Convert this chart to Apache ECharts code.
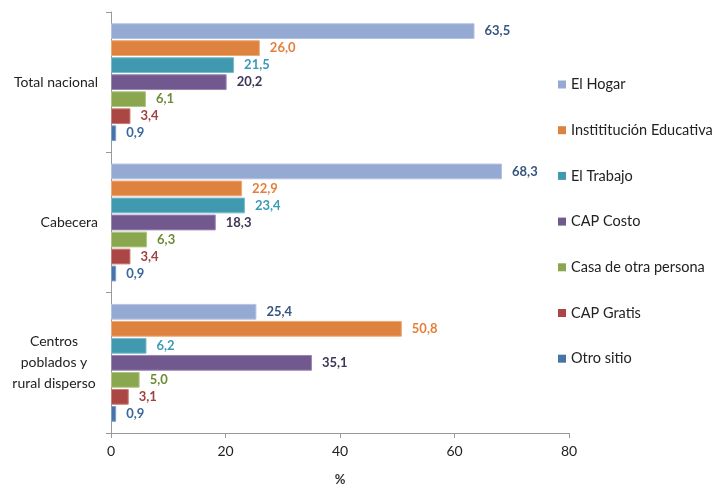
<!DOCTYPE html>
<html>
<head>
<meta charset="utf-8">
<script src="https://cdn.jsdelivr.net/npm/echarts@6/dist/echarts.min.js"></script>
<style>
  html, body { margin: 0; padding: 0; background: #fff; }
  #chart { width: 715px; height: 486px; }
</style>
</head>
<body>
<div id="chart"></div>
<script>
// categorías (de arriba hacia abajo)
const categories = ['Total nacional', 'Cabecera', 'Centros\npoblados y\nrural disperso']

const seriesNames = [
  'El Hogar',
  'Instititución Educativa',
  'El Trabajo',
  'CAP Costo',
  'Casa de otra persona',
  'CAP Gratis',
  'Otro sitio'
]

// valores por serie, en el orden de categories
const hogar = [63.5, 68.3, 25.4]
const educativa = [26.0, 22.9, 50.8]
const trabajo = [21.5, 23.4, 6.2]
const capCosto = [20.2, 18.3, 35.1]
const otraPersona = [6.1, 6.3, 5.0]
const capGratis = [3.4, 3.4, 3.1]
const otroSitio = [0.9, 0.9, 0.9]

const xTicks = [0, 20, 40, 60, 80]

const seriesValues = [hogar, educativa, trabajo, capCosto, otraPersona, capGratis, otroSitio]
const barColors = ['#95AAD3', '#DD833F', '#4199B0', '#71588F', '#8AA64E', '#AA4744', '#4673A8']
const borderColors = ['#B4C4E2', '#EFA877', '#79BCCD', '#9A86B2', '#AFC683', '#CB7C79', '#7C9ECB']
const labelColors = ['#36557F', '#E67E3A', '#3A9AB5', '#3E3656', '#6E8A36', '#A04040', '#3A66A0']

const FONT = 'Lato, "Open Sans", sans-serif'

const chart = echarts.init(document.getElementById('chart'))

const series = seriesNames.map((name, i) => ({
  name: name,
  type: 'bar',
  data: seriesValues[i],
  barGap: '8%',
  barCategoryGap: '16%',
  itemStyle: {
    color: barColors[i],
    borderColor: borderColors[i],
    borderWidth: 1
  },
  label: {
    show: true,
    position: 'right',
    distance: 10,
    color: labelColors[i],
    fontFamily: FONT,
    fontWeight: 'bold',
    fontSize: 13,
    formatter: p => p.value.toFixed(1).replace('.', ',')
  }
}))

const option = {
  animation: false,
  grid: { left: 111, right: 146, top: 12, bottom: 53, containLabel: false, outerBoundsMode: 'none' },
  legend: {
    orient: 'vertical',
    left: 553,
    top: 72,
    itemWidth: 8,
    itemHeight: 8,
    itemGap: 30.7,
    icon: 'rect',
    itemStyle: { borderWidth: 0 },
    textStyle: { fontFamily: FONT, fontSize: 14.5, color: '#222' },
    data: seriesNames
  },
  xAxis: {
    type: 'value',
    min: 0,
    max: 80,
    interval: 20,
    name: '%',
    nameLocation: 'middle',
    nameGap: 40,
    nameTextStyle: { fontFamily: FONT, fontSize: 13, fontWeight: 'bold', color: '#333' },
    axisLine: { show: true, lineStyle: { color: '#999' } },
    axisTick: { show: true, length: 5, lineStyle: { color: '#999' } },
    splitLine: { show: false },
    axisLabel: {
      fontFamily: FONT,
      fontSize: 14,
      color: '#222',
      margin: 11,
      formatter: v => xTicks.includes(v) ? String(v) : ''
    }
  },
  yAxis: {
    type: 'category',
    inverse: true,
    data: categories,
    axisLine: { show: true, lineStyle: { color: '#999' } },
    axisTick: { show: true, length: 5, lineStyle: { color: '#999' } },
    axisLabel: {
      margin: 13,
      fontFamily: FONT,
      fontSize: 14,
      color: '#222',
      formatter: v => v.includes('\n')
        ? v.split('\n').map(s => '{c|' + s + '}').join('\n')
        : v,
      rich: {
        c: { width: 88, align: 'center', fontFamily: FONT, fontSize: 14, color: '#222', lineHeight: 21 }
      }
    }
  },
  series: series
}

chart.setOption(option)
</script>
</body>
</html>
